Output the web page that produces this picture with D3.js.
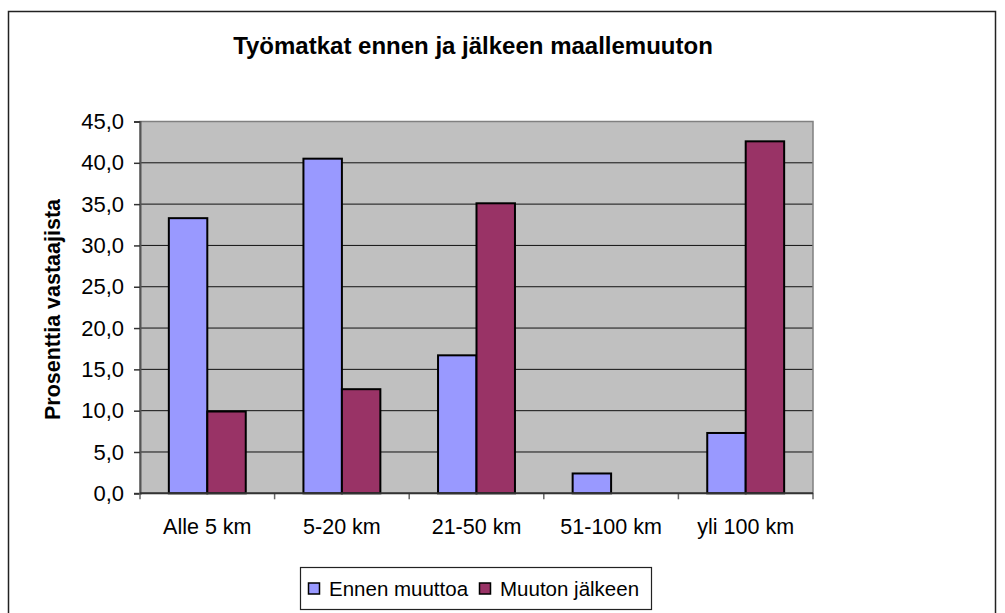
<!DOCTYPE html>
<html>
<head>
<meta charset="utf-8">
<script src="https://cdn.jsdelivr.net/npm/d3@7"></script>
<style>
  body { margin: 0; background: #fff; }
  svg { display: block; font-family: Arial, "Liberation Sans", sans-serif; }
</style>
</head>
<body>
<svg id="chart" width="1005" height="613"></svg>
<script>
const categories = ['Alle 5 km', '5-20 km', '21-50 km', '51-100 km', 'yli 100 km'];
const seriesNames = ['Ennen muuttoa', 'Muuton jälkeen'];
const ennenValues = [33.3, 40.5, 16.7, 2.4, 7.3];
const jalkeenValues = [9.9, 12.6, 35.1, 0, 42.6];
const yTicks = [0, 5, 10, 15, 20, 25, 30, 35, 40, 45];
const colors = ['#9999FF', '#993366'];

const svg = d3.select('#chart');

// outer chart frame
svg.append('rect')
  .attr('x', 8.5).attr('y', 11.5).attr('width', 987).attr('height', 620)
  .attr('fill', 'none').attr('stroke', '#222').attr('stroke-width', 1.5);

const plot = { left: 140, right: 813, top: 121.5, bottom: 493.3 };

const y = d3.scaleLinear().domain([0, 45]).range([plot.bottom, plot.top]);

// gap width 150% -> group of two bars is 2/3.5 of a category
const gap = 1.5 / 3.5;
const x0 = d3.scaleBand().domain(categories)
  .range([plot.left, plot.right])
  .paddingInner(gap).paddingOuter(gap / 2);
const x1 = d3.scaleBand().domain(seriesNames).range([0, x0.bandwidth()]);

// plot background
svg.append('rect')
  .attr('x', plot.left).attr('y', plot.top)
  .attr('width', plot.right - plot.left).attr('height', plot.bottom - plot.top)
  .attr('fill', '#C0C0C0');

// gridlines
svg.append('g')
  .selectAll('line').data(yTicks.filter(t => t > 0 && t < 45)).join('line')
  .attr('x1', plot.left).attr('x2', plot.right)
  .attr('y1', d => y(d)).attr('y2', d => y(d))
  .attr('stroke', '#111').attr('stroke-width', 1);

// plot border (top/right gray)
svg.append('rect')
  .attr('x', plot.left).attr('y', plot.top)
  .attr('width', plot.right - plot.left).attr('height', plot.bottom - plot.top)
  .attr('fill', 'none').attr('stroke', '#808080').attr('stroke-width', 1.5);

// bars
const rows = categories.map((c, i) => ({ cat: c, vals: [ennenValues[i], jalkeenValues[i]] }));
const group = svg.append('g').selectAll('g').data(rows).join('g')
  .attr('transform', d => `translate(${x0(d.cat)},0)`);
group.selectAll('rect')
  .data(d => d.vals.map((v, k) => ({ name: seriesNames[k], v, k })).filter(e => e.v > 0))
  .join('rect')
  .attr('x', d => x1(d.name))
  .attr('y', d => y(d.v))
  .attr('width', x1.bandwidth())
  .attr('height', d => y(0) - y(d.v))
  .attr('fill', d => colors[d.k])
  .attr('stroke', '#000').attr('stroke-width', 2);

// y axis
const yAxis = svg.append('g')
  .attr('transform', `translate(${plot.left},0)`)
  .call(d3.axisLeft(y).tickValues(yTicks).tickSize(6).tickPadding(10)
    .tickFormat(d => d.toFixed(1).replace('.', ',')));
yAxis.select('.domain').attr('stroke', '#555').attr('stroke-width', 2);
yAxis.selectAll('.tick line').attr('stroke', '#333').attr('stroke-width', 1.5);
yAxis.selectAll('text').attr('font-size', 22).attr('fill', '#000');

// x axis: labels centred on categories, ticks on category boundaries
const step = x0.step();
const boundaries = categories.map(c => x0(c) - step * gap / 2).concat([plot.right]);
svg.append('g').selectAll('line').data(boundaries).join('line')
  .attr('x1', d => d).attr('x2', d => d)
  .attr('y1', plot.bottom).attr('y2', plot.bottom + 6)
  .attr('stroke', '#666').attr('stroke-width', 1.5);

const xAxis = svg.append('g')
  .attr('transform', `translate(0,${plot.bottom})`)
  .call(d3.axisBottom(x0).tickSize(0).tickPadding(25));
xAxis.select('.domain').attr('stroke', '#333').attr('stroke-width', 2)
  .attr('d', `M${plot.left},0H${plot.right}`);
xAxis.selectAll('text').attr('font-size', 21.5).attr('fill', '#000');

// title
svg.append('text')
  .attr('x', 473).attr('y', 54)
  .attr('text-anchor', 'middle')
  .attr('font-size', 24).attr('font-weight', 'bold')
  .text('Työmatkat ennen ja jälkeen maallemuuton');

// y axis title
svg.append('text')
  .attr('transform', 'translate(60,309.5) rotate(-90)')
  .attr('text-anchor', 'middle')
  .attr('font-size', 21.5).attr('font-weight', 'bold')
  .text('Prosenttia vastaajista');

// legend
const legend = svg.append('g');
legend.append('rect')
  .attr('x', 300.5).attr('y', 567.5).attr('width', 351).attr('height', 42)
  .attr('fill', '#fff').attr('stroke', '#222').attr('stroke-width', 1.2);
const legendX = [308, 479];
const item = legend.selectAll('g.item').data(seriesNames).join('g')
  .attr('class', 'item')
  .attr('transform', (d, i) => `translate(${legendX[i]},0)`);
item.append('rect')
  .attr('x', 0.5).attr('y', 583).attr('width', 11).attr('height', 11)
  .attr('fill', (d, i) => colors[i]).attr('stroke', '#000').attr('stroke-width', 1.5);
item.append('text')
  .attr('x', 21).attr('y', 596)
  .attr('font-size', 20.5)
  .text(d => d);
</script>
</body>
</html>
